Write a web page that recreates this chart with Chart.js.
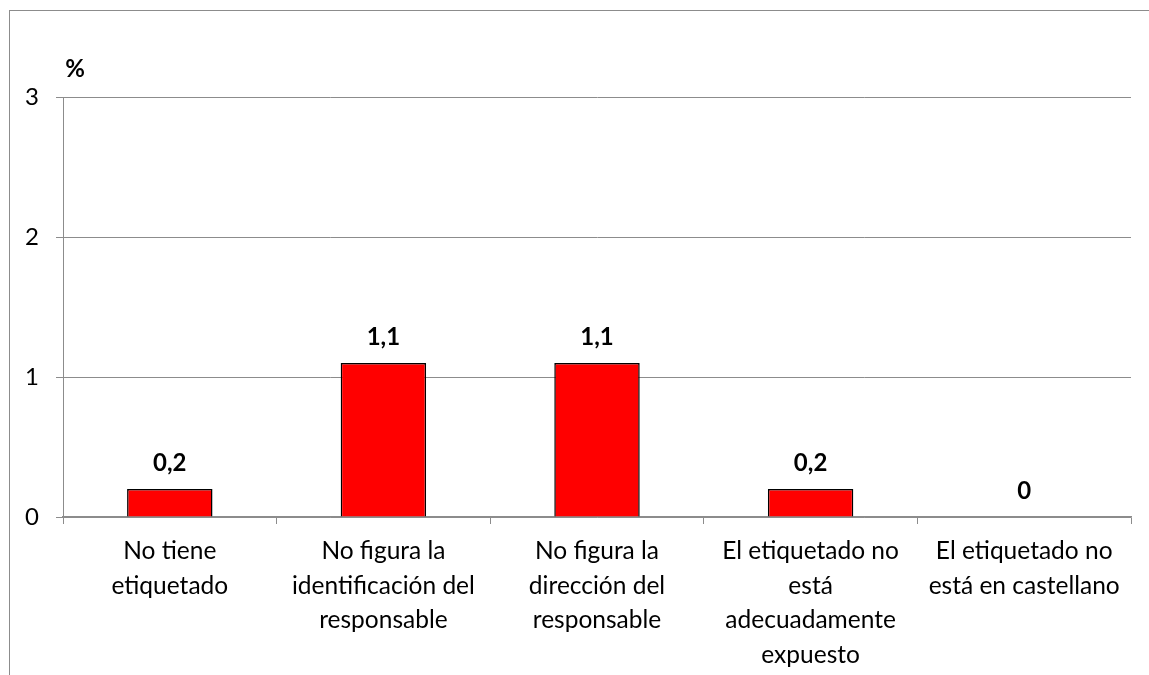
<!DOCTYPE html>
<html>
<head>
<meta charset="utf-8">
<script src="https://cdn.jsdelivr.net/npm/chart.js@4/dist/chart.umd.min.js"></script>
<style>
  html, body { margin: 0; padding: 0; background: #fff; overflow: hidden; }
  #wrap { position: relative; width: 1149px; height: 675px; }
  #frame { position: absolute; left: 9px; top: 10px; width: 1300px; height: 800px; border: 1px solid #8c8c8c; box-sizing: border-box; }
  #chart { position: absolute; left: 0; top: 0; }
</style>
</head>
<body>
<div id="wrap">
  <div id="frame"></div>
  <canvas id="chart" width="1149" height="675"></canvas>
</div>
<script>
/* ── Data ─────────────────────────────────────────────────── */
const categories = [
    ['No tiene', 'etiquetado'],
    ['No figura la', 'identificación del', 'responsable'],
    ['No figura la', 'dirección del', 'responsable'],
    ['El etiquetado no', 'está', 'adecuadamente', 'expuesto'],
    ['El etiquetado no', 'está en castellano'],
];
const values = [0.2, 1.1, 1.1, 0.2, 0];
const yTicks = [0, 1, 2, 3];
const unitLabel = '%';

const FONT = "Lato, 'Open Sans', sans-serif";
const GRID = '#8c8c8c';

/* ── Value labels + unit label ─────────────────────────────── */
const labelsPlugin = {
    id: 'valueLabels',
    afterDatasetsDraw(chart) {
        const ctx = chart.ctx;
        const meta = chart.getDatasetMeta(0);
        ctx.save();
        ctx.fillStyle = '#000';
        ctx.font = `bold 24px ${FONT}`;
        ctx.textAlign = 'center';
        ctx.textBaseline = 'middle';
        meta.data.forEach((bar, i) => {
            ctx.fillText(String(values[i]).replace('.', ','), bar.x, bar.y - 26);
        });
        // unit label above y axis
        ctx.font = `bold 24px ${FONT}`;
        ctx.fillText(unitLabel, chart.chartArea.left + 12, chart.chartArea.top - 28);
        ctx.restore();
    }
};

const ctx = document.getElementById('chart').getContext('2d');
new Chart(ctx, {
    type: 'bar',
    data: {
        labels: categories,
        datasets: [{
            data: values,
            backgroundColor: '#ff0000',
            borderColor: '#000',
            borderWidth: 1.5,
            barPercentage: 0.4,
            categoryPercentage: 1,
        }],
    },
    options: {
        responsive: false,
        animation: false,
        layout: { padding: { left: 20, top: 97, right: 18, bottom: 0 } },
        plugins: {
            legend: { display: false },
            tooltip: { enabled: false },
        },
        scales: {
            y: {
                min: yTicks[0], max: yTicks[yTicks.length - 1],
                afterFit: s => { s.width = 43; },
                ticks: { stepSize: 1, color: '#000', padding: 17, font: { family: FONT, size: 24 } },
                grid: { color: GRID, lineWidth: 1, tickLength: 7 },
                border: { color: GRID, width: 1 },
            },
            x: {
                afterFit: s => { s.height = 158; },
                ticks: { color: '#000', padding: 10, maxRotation: 0, autoSkip: false, font: { family: FONT, size: 24.5, lineHeight: 1.41 } },
                grid: { color: GRID, lineWidth: 1, tickLength: 7, drawOnChartArea: false, offset: true },
                border: { color: GRID, width: 1.5 },
            },
        },
    },
    plugins: [labelsPlugin],
});
</script>
</body>
</html>
